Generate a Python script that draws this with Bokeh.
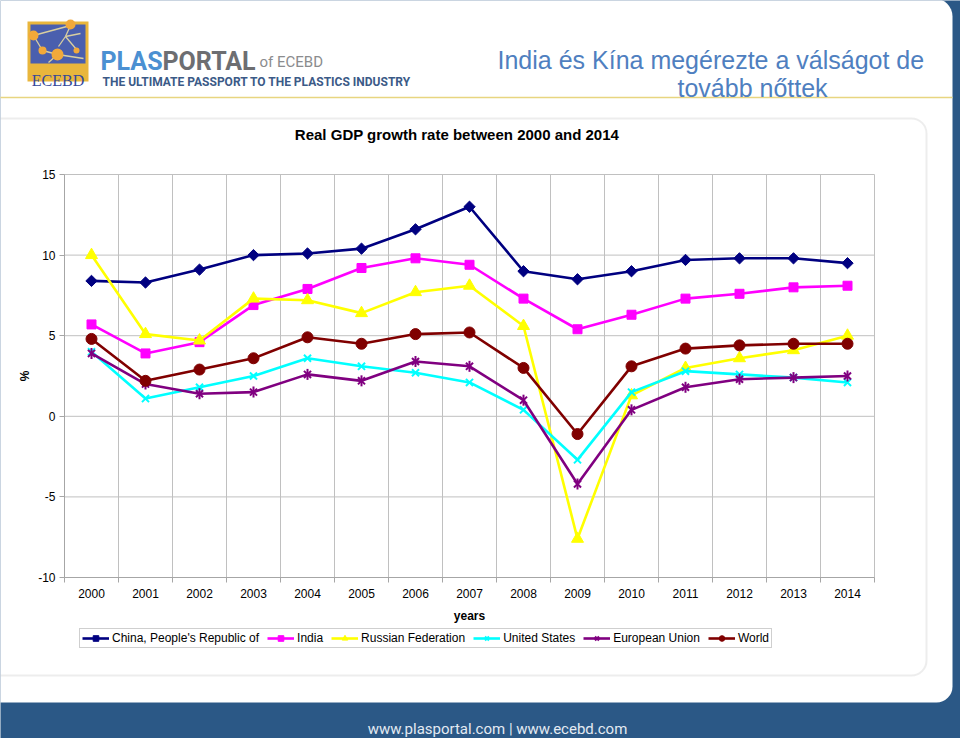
import math
from bokeh.plotting import figure
from bokeh.models import (Range1d, FixedTicker, BoxAnnotation, Label, Legend,
                          LegendItem, PolyAnnotation, LinearAxis)
from bokeh.embed import file_html
from bokeh.resources import INLINE

# ---------------- data ----------------
years = [2000, 2001, 2002, 2003, 2004, 2005, 2006, 2007,
         2008, 2009, 2010, 2011, 2012, 2013, 2014]
china = [8.4, 8.3, 9.1, 10.0, 10.1, 10.4, 11.6, 13.0, 9.0, 8.5, 9.0, 9.7, 9.8, 9.8, 9.5]
india = [5.7, 3.9, 4.6, 6.9, 7.9, 9.2, 9.8, 9.4, 7.3, 5.4, 6.3, 7.3, 7.6, 8.0, 8.1]
russia = [10.0, 5.1, 4.7, 7.3, 7.2, 6.4, 7.7, 8.1, 5.6, -7.6, 1.3, 3.0, 3.6, 4.1, 5.0]
usa = [4.0, 1.1, 1.8, 2.5, 3.6, 3.1, 2.7, 2.1, 0.4, -2.7, 1.5, 2.8, 2.6, 2.4, 2.1]
eu = [3.9, 2.0, 1.4, 1.5, 2.6, 2.2, 3.4, 3.1, 1.0, -4.2, 0.4, 1.8, 2.3, 2.4, 2.5]
world = [4.8, 2.2, 2.9, 3.6, 4.9, 4.5, 5.1, 5.2, 3.0, -1.1, 3.1, 4.2, 4.4, 4.5, 4.5]
series_names = ["China, People's Republic of", "India", "Russian Federation",
                "United States", "European Union", "World"]
y_ticks = [-10, -5, 0, 5, 10, 15]

chart_title = "Real GDP growth rate between 2000 and 2014"
slide_title_1 = "India és Kína megérezte a válságot de"
slide_title_2 = "tovább nőttek"
x_label = "years"
y_label = "%"
footer_text = "www.plasportal.com | www.ecebd.com"

# ---------------- layout ----------------
W, H = 960, 738
CL, CR, CT, CB = 64, 874, 174, 577     # chart plot area (canvas pixels)
FONT = "Liberation Sans"
BLUE_BG = "#2b5886"
GRID = "#c0c0c0"
AXIS = "#a6a6a6"

x0, x1 = years[0] - 0.5, years[-1] + 0.5
y0, y1 = y_ticks[0], y_ticks[-1]
ux = (x1 - x0) / (CR - CL)
uy = (y1 - y0) / (CB - CT)

p = figure(width=W, height=H, output_backend="svg", toolbar_location=None,
           x_range=Range1d(0, W), y_range=Range1d(H, 0),
           x_axis_location=None, y_axis_location=None, min_border=0)
p.title.visible = False
p.grid.visible = False
p.extra_x_ranges = {"yr": Range1d(x0 - CL * ux, x1 + (W - CR) * ux)}
p.extra_y_ranges = {"val": Range1d(y0 - (H - CB) * uy, y1 + CT * uy)}
p.background_fill_color = BLUE_BG
p.border_fill_color = BLUE_BG
p.outline_line_color = None
DR = dict(x_range_name="yr", y_range_name="val")


def box(l, r, t, b, **kw):
    a = BoxAnnotation(left=l, right=r, top=t, bottom=b, **kw)
    p.add_layout(a)
    return a


def label(x, y, text, **kw):
    a = Label(x=x, y=y, text=text, **kw)
    p.add_layout(a)
    return a


# background slide
box(-40, 952, -2, 702, fill_color="white", fill_alpha=1, line_color=None,
    border_radius=(0, 18, 16, 0), level="image")
box(-40, 926, 118, 675, fill_color=None, fill_alpha=0, line_color="#c4c4c4",
    line_width=2, border_radius=(0, 15, 15, 0), level="image")
box(-40, 952, 96.3, 97.8, fill_color="#e8d580", fill_alpha=1, line_color=None,
    level="image")

# logo
box(27, 88, 21, 81, fill_color="#e9b63c", fill_alpha=1, line_color=None)
box(30, 85, 24, 63, fill_color="#4a5fae", fill_alpha=1, line_color=None)


def seg(xa, ya, xb, yb, w=1.3, color="#d9cfa0"):
    dx, dy = xb - xa, yb - ya
    n = math.hypot(dx, dy)
    ox, oy = -dy / n * w / 2, dx / n * w / 2
    a = PolyAnnotation(xs=[xa + ox, xb + ox, xb - ox, xa - ox],
                       ys=[ya + oy, yb + oy, yb - oy, ya - oy],
                       fill_color=color, fill_alpha=1, line_color=None)
    p.add_layout(a)


for (a, b, c, d) in [(33, 35, 70, 25), (33, 35, 42, 50), (42, 50, 57, 54),
                     (57, 54, 83, 58), (65, 36, 70, 25), (65, 36, 58, 46),
                     (65, 36, 76, 49), (65, 36, 80, 33), (48, 62, 57, 54)]:
    seg(a, b, c, d)
for (cx, cy, r) in [(33, 35, 5), (42, 50, 4), (57, 54, 6), (70, 24, 5), (76, 50, 3)]:
    box(cx - r, cx + r, cy - r, cy + r, fill_color="#f2a93a", fill_alpha=1,
        line_color=None, border_radius=r)
label(57.5, 80, "ECEBD", text_font="Liberation Serif", text_font_size="16px",
      text_color="#34479a", text_align="center", text_baseline="alphabetic")

# brand text
label(100, 61, "PLAS", text_font="Roboto", text_font_style="bold",
      text_font_size="25px", text_color="#4b90d2", text_baseline="alphabetic")
label(162, 61, "PORTAL", text_font="Roboto", text_font_style="bold",
      text_font_size="25px", text_color="#6d6e71", text_baseline="alphabetic")
label(259, 61, "of ECEBD", text_font="Roboto", text_font_size="15px",
      text_color="#8b8c8e", text_baseline="alphabetic")
label(102, 81, "THE ULTIMATE PASSPORT TO THE PLASTICS INDUSTRY", text_font="Roboto",
      text_font_style="bold", text_font_size="12px", text_color="#3b5a87",
      text_baseline="alphabetic")

# slide title
label(497, 59, slide_title_1, text_font=FONT, text_font_size="25px",
      text_color="#4f7fc0", text_baseline="alphabetic")
label(677, 87, slide_title_2, text_font=FONT, text_font_size="25px",
      text_color="#4f7fc0", text_baseline="alphabetic")

# chart title
label(456.5, 134, chart_title, text_font=FONT, text_font_style="bold",
      text_font_size="15px", text_color="black", text_align="center",
      text_baseline="alphabetic")

# footer
label(497, 728, footer_text, text_font="Roboto", text_font_size="15px",
      text_color="#e3eaf2", text_align="center", text_baseline="alphabetic")

# ---------------- grid (from the tick lists) ----------------
boundaries = [y - 0.5 for y in years] + [years[-1] + 0.5]
p.segment(x0=boundaries, y0=[y0] * len(boundaries), x1=boundaries,
          y1=[y1] * len(boundaries), line_color=GRID, line_width=1,
          level="underlay", **DR)
p.segment(x0=[x0] * len(y_ticks), y0=y_ticks, x1=[x1] * len(y_ticks),
          y1=y_ticks, line_color=GRID, line_width=1, level="underlay", **DR)

# ---------------- axes ----------------
xaxis = LinearAxis(ticker=FixedTicker(ticks=years, minor_ticks=boundaries),
                   fixed_location=y0, bounds=(x0, x1), axis_label=x_label, **DR)
xaxis.major_tick_line_color = None
xaxis.major_tick_out = 5
xaxis.major_tick_in = 0
xaxis.minor_tick_line_color = AXIS
xaxis.minor_tick_out = 5
xaxis.minor_tick_in = 0
xaxis.major_label_standoff = 6
xaxis.axis_label_standoff = 8

yaxis = LinearAxis(ticker=FixedTicker(ticks=y_ticks), fixed_location=x0,
                   bounds=(y0, y1), axis_label=y_label, **DR)
yaxis.major_tick_out = 5
yaxis.major_tick_in = 0
yaxis.major_tick_line_color = AXIS
yaxis.minor_tick_line_color = None
yaxis.major_label_standoff = 4
yaxis.axis_label_standoff = 3
yaxis.major_label_overrides = {t: str(t) for t in y_ticks}

for ax in (xaxis, yaxis):
    ax.axis_line_color = AXIS
    ax.major_label_text_font = FONT
    ax.major_label_text_font_size = "12px"
    ax.major_label_text_color = "black"
    ax.axis_label_text_font = FONT
    ax.axis_label_text_font_size = "12px"
    ax.axis_label_text_font_style = "bold"
    ax.axis_label_text_color = "black"

p.add_layout(xaxis, "below")
p.add_layout(yaxis, "left")

# ---------------- series ----------------
styles = [
    (china, "#000080", [dict(marker="square", size=8, angle=math.pi / 4)]),
    (india, "#ff00ff", [dict(marker="square", size=9)]),
    (russia, "#ffff00", [dict(marker="triangle", size=12)]),
    (usa, "#00ffff", [dict(marker="x", size=10, line_width=2)]),
    (eu, "#800080", [dict(marker="x", size=10, line_width=2),
                     dict(marker="dash", size=11, angle=math.pi / 2, line_width=2)]),
    (world, "#800000", [dict(marker="circle", size=11)]),
]

items = []
for name, (vals, color, marks) in zip(series_names, styles):
    rs = [p.line(years, vals, line_color=color, line_width=2.6, **DR)]
    for m in marks:
        rs.append(p.scatter(years, vals, fill_color=color, line_color=color, **DR, **m))
    items.append(LegendItem(label=name, renderers=rs))

LEG_LEFT, LEG_TOP, LEG_H = 79, 630, 18
legend = Legend(items=items, orientation="horizontal",
                location=(LEG_LEFT, H - LEG_TOP - LEG_H),
                glyph_width=27, glyph_height=14, label_height=14,
                label_standoff=3, spacing=8, padding=2, margin=0,
                border_line_color="#a0a0a0", border_line_width=1,
                background_fill_color="white", background_fill_alpha=1,
                label_text_font=FONT, label_text_font_size="12px",
                label_text_color="black")
p.add_layout(legend)

open("out.html", "w").write(file_html(p, INLINE))
